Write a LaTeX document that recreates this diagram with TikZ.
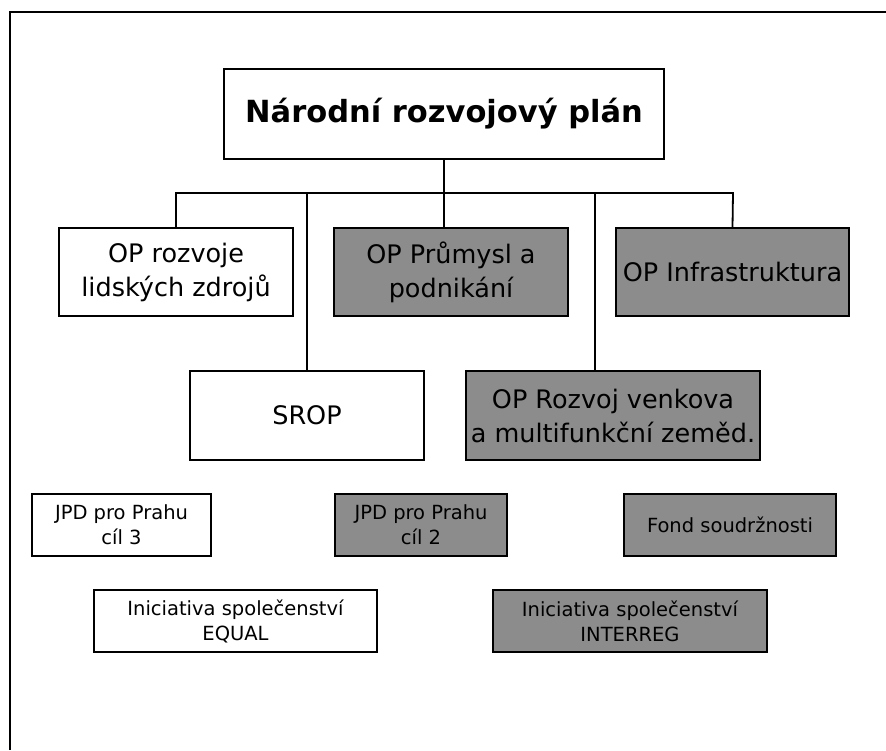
\documentclass[tikz,border=0pt]{standalone}
\usepackage{fontspec}
\setmainfont{DejaVu Sans}
\usepackage{tikz}
\usetikzlibrary{positioning}

\begin{document}
\begin{tikzpicture}[x=1pt, y=-1pt,
    box/.style={rectangle, draw, line width=1.4pt, align=center, inner sep=0pt, font=\fontsize{25.5}{34}\selectfont},
    smallbox/.style={box, font=\fontsize{19.5}{25}\selectfont},
    grey/.style={fill=black!45},
    titlebox/.style={rectangle, draw, line width=2pt, align=center, font=\bfseries\fontsize{30.5}{36}\selectfont},
    link/.style={line width=1.8pt}
]
\useasboundingbox (0,0) rectangle (886,750);

% outer frame
\draw[line width=2pt] (10,750) -- (10,12) -- (886,12);

\node[titlebox, minimum width=440, minimum height=90] (plan) at (444,114) {Národní rozvojový plán};

\node[box, minimum width=234, minimum height=88] (oplz) at (176,272) {OP rozvoje\\lidských zdrojů};
\node[box, grey, minimum width=234, minimum height=88] (opprum) at (451,272) {OP Průmysl a\\podnikání};
\node[box, grey, minimum width=233, minimum height=88] (opinfra) at (732.5,272) {OP Infrastruktura};

\node[box, minimum width=234, minimum height=89] (srop) at (307,415.5) {SROP};
\node[box, grey, minimum width=294, minimum height=89] (oprv) at (613,415.5) {OP Rozvoj venkova\\a multifunkční zeměd.};

\node[smallbox, minimum width=179, minimum height=62] (jpd3) at (121.5,525) {JPD pro Prahu\\cíl 3};
\node[smallbox, grey, minimum width=172, minimum height=62] (jpd2) at (421,525) {JPD pro Prahu\\cíl 2};
\node[smallbox, grey, minimum width=212, minimum height=62] (fond) at (730,525) {Fond soudržnosti};

\node[smallbox, minimum width=283, minimum height=62] (equal) at (235.5,621) {Iniciativa společenství\\EQUAL};
\node[smallbox, grey, minimum width=274, minimum height=62] (interreg) at (630,621) {Iniciativa společenství\\INTERREG};

\coordinate (busR) at (733,193);

\draw[link] (oplz.north) |- (busR) -- (opinfra.north);
\draw[link] (plan.south) -- (plan.south |- opprum.north);
\draw[link] (srop.north) -- (srop.north |- busR);
\draw[link] ([xshift=-18pt]oprv.north) -- ([xshift=-18pt]oprv.north |- busR);

\end{tikzpicture}
\end{document}
